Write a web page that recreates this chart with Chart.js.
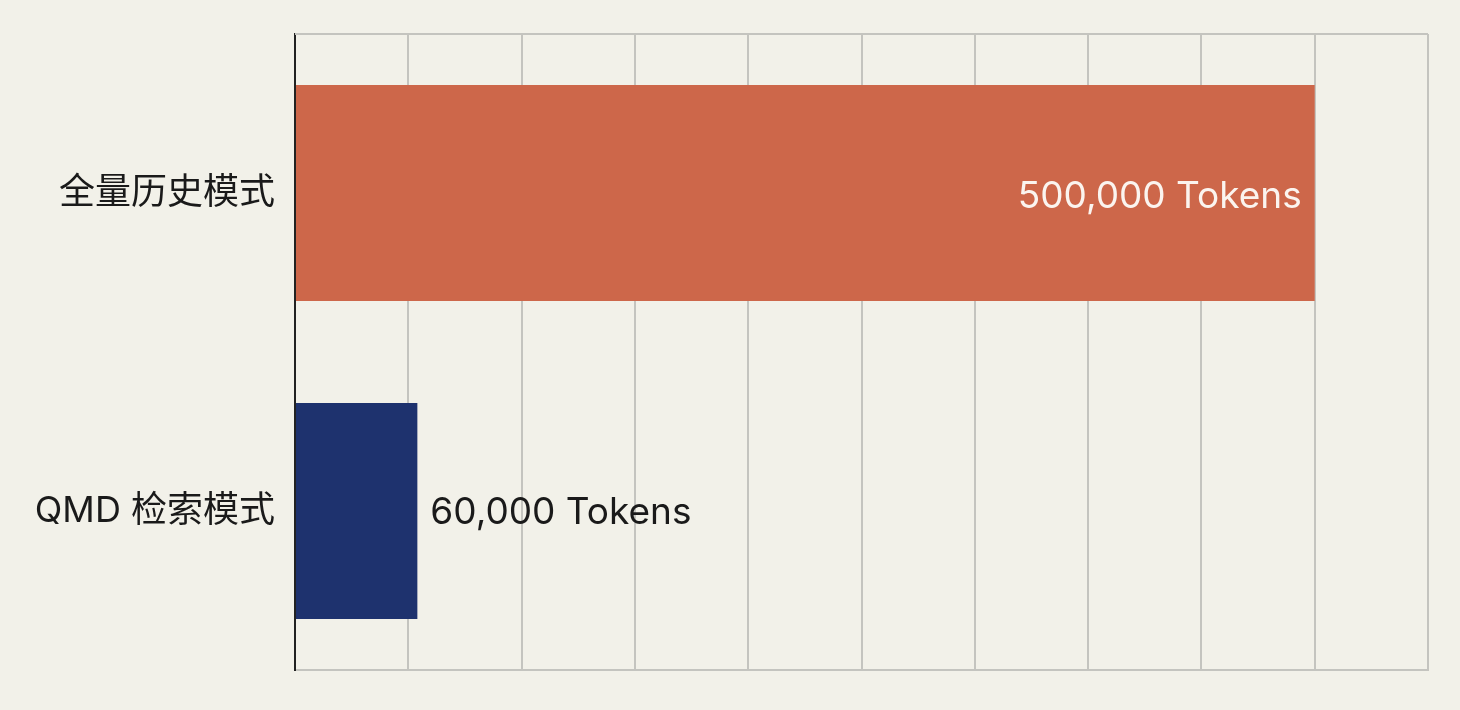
<!DOCTYPE html>
<html>
<head>
<meta charset="utf-8">
<script src="https://cdn.jsdelivr.net/npm/chart.js@4"></script>
<style>
  html, body { margin: 0; padding: 0; background: #f2f1e9; }
  #wrap { width: 1460px; height: 710px; }
</style>
</head>
<body>
<div id="wrap"><canvas id="tokenChart"></canvas></div>
<script>
const categories = ["全量历史模式", "QMD 检索模式"];
const tokens = [500000, 60000];
const barColors = ["#cd674a", "#1e326e"];
const valueLabels = ["500,000 Tokens", "60,000 Tokens"];

const axisMax = 500000 / 0.9; // 500k bar stops at the 9th of 10 grid cells
const gridCount = 10;

const fontFamily = 'Inter, "Noto Sans CJK SC", sans-serif';

// writes the token count at the end of each bar
const valueLabelPlugin = {
  id: "valueLabels",
  afterDatasetsDraw(chart) {
    const { ctx } = chart;
    const meta = chart.getDatasetMeta(0);
    ctx.save();
    ctx.font = "37px " + fontFamily;
    ctx.textBaseline = "middle";
    meta.data.forEach((bar, i) => {
      const text = valueLabels[i];
      const w = ctx.measureText(text).width;
      const inside = bar.x - bar.base > w + 40;
      if (inside) {
        ctx.fillStyle = "#fbf4ef";
        ctx.textAlign = "right";
        ctx.fillText(text, bar.x - 13, bar.y + 4);
      } else {
        ctx.fillStyle = "#1a1a1a";
        ctx.textAlign = "left";
        ctx.fillText(text, bar.x + 13, bar.y + 2);
      }
    });
    ctx.restore();
  }
};

// top edge of the plot frame
const frameTopPlugin = {
  id: "frameTop",
  beforeDatasetsDraw(chart) {
    const { ctx, chartArea } = chart;
    ctx.save();
    ctx.strokeStyle = "#c4c4bf";
    ctx.lineWidth = 2;
    ctx.beginPath();
    ctx.moveTo(chartArea.left, chartArea.top);
    ctx.lineTo(chartArea.right, chartArea.top);
    ctx.stroke();
    ctx.restore();
  }
};

const ctx = document.getElementById("tokenChart").getContext("2d");

new Chart(ctx, {
  type: "bar",
  data: {
    labels: categories,
    datasets: [{
      data: tokens,
      backgroundColor: barColors,
      borderWidth: 0,
      barPercentage: 0.85,
      categoryPercentage: 0.8,
    }],
  },
  options: {
    indexAxis: "y",
    responsive: true,
    maintainAspectRatio: false,
    animation: false,
    layout: {
      padding: { left: 0, right: 32, top: 34, bottom: 40 }
    },
    scales: {
      x: {
        min: 0,
        max: axisMax,
        afterBuildTicks: scale => {
          const ticks = [];
          for (let i = 0; i <= gridCount; i++) ticks.push({ value: axisMax * i / gridCount });
          scale.ticks = ticks;
        },
        afterFit: scale => { scale.paddingLeft = 0; scale.paddingRight = 0; },
        ticks: { display: false },
        grid: {
          color: "#c4c4bf",
          lineWidth: 2,
          drawTicks: false,
        },
        border: { display: true, color: "#c4c4bf", width: 2 }
      },
      y: {
        afterFit: scale => {
          scale.width = 295;
          scale.paddingTop = 0;
          scale.paddingBottom = 0;
        },
        grid: { display: false, drawTicks: false },
        border: { display: true, color: "#222222", width: 2 },
        ticks: {
          padding: 20,
          color: "#1a1a1a",
          font: { size: 36, family: fontFamily }
        }
      }
    },
    plugins: {
      legend: { display: false },
      tooltip: { enabled: false }
    }
  },
  plugins: [valueLabelPlugin, frameTopPlugin]
});
</script>
</body>
</html>
